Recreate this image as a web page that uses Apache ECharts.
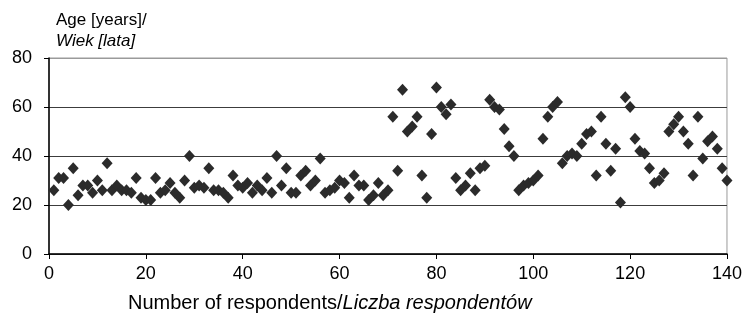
<!DOCTYPE html>
<html>
<head>
<meta charset="utf-8">
<script src="https://cdn.jsdelivr.net/npm/echarts@6/dist/echarts.min.js"></script>
<style>
  html, body { margin: 0; padding: 0; background: #fff; }
  #chart { width: 745px; height: 316px; }
</style>
</head>
<body>
<div id="chart"></div>
<script>
// 每位受访者的年龄（按受访者编号 1..140 顺序）
const ages = [
  26, 31, 31, 20, 35, 24, 28, 28, 25, 30,
  26, 37, 26, 28, 26, 26, 25, 31, 23, 22,
  22, 31, 25, 26, 29, 25, 23, 30, 40, 27,
  28, 27, 35, 26, 26, 25, 23, 32, 28, 27,
  29, 25, 28, 26, 31, 25, 40, 28, 35, 25,
  25, 32, 34, 28, 30, 39, 25, 26, 27, 30,
  29, 23, 32, 28, 28, 22, 24, 29, 24, 26,
  56, 34, 67, 50, 52, 56, 32, 23, 49, 68,
  60, 57, 61, 31, 26, 28, 33, 26, 35, 36,
  63, 60, 59, 51, 44, 40, 26, 28, 29, 30,
  32, 47, 56, 60, 62, 37, 40, 41, 40, 45,
  49, 50, 32, 56, 45, 34, 43, 21, 64, 60,
  47, 42, 41, 35, 29, 30, 33, 50, 53, 56,
  50, 45, 32, 56, 39, 46, 48, 43, 35, 30
]
// 坐标轴刻度
const xTicks = [0, 20, 40, 60, 80, 100, 120, 140]
const yTicks = [0, 20, 40, 60, 80]

const font = "'Liberation Sans', Arial, sans-serif"
const pointColor = '#2b2b2b'
const gridColor = '#3c3c3c'

let points = ages.map((a, i) => [i + 1, a])

let myChart = echarts.init(document.getElementById('chart'))
let option = {
  animation: false,
  textStyle: { fontFamily: font, color: '#000' },
  title: [
    {
      text: '{a|Age [years]/}\n{b|Wiek [lata]}',
      left: 56,
      top: 10,
      padding: 0,
      textStyle: {
        fontWeight: 'normal',
        rich: {
          a: { fontSize: 17, lineHeight: 21, color: '#000', fontFamily: font, fontWeight: 'normal' },
          b: { fontSize: 17, lineHeight: 21, color: '#000', fontFamily: font, fontWeight: 'normal', fontStyle: 'italic' }
        }
      }
    },
    {
      text: '{a|Number of respondents/}{b|Liczba respondentów}',
      left: 128,
      top: 293,
      padding: 0,
      textStyle: {
        fontWeight: 'normal',
        rich: {
          a: { fontSize: 20, color: '#000', fontFamily: font, fontWeight: 'normal' },
          b: { fontSize: 20, color: '#000', fontFamily: font, fontWeight: 'normal', fontStyle: 'italic' }
        }
      }
    }
  ],
  grid: {
    left: 49,
    right: 18,
    top: 58,
    bottom: 62,
    show: true,
    borderColor: '#9a9a9a',
    borderWidth: 1,
    containLabel: false
  },
  xAxis: {
    type: 'value',
    min: xTicks[0],
    max: xTicks[xTicks.length - 1],
    interval: 20,
    axisLine: { show: true, lineStyle: { color: '#000', width: 1.5 } },
    axisTick: { show: true, inside: false, length: 5, lineStyle: { color: '#000' } },
    axisLabel: { fontSize: 18, color: '#000', margin: 11, fontFamily: font },
    splitLine: { show: false }
  },
  yAxis: {
    type: 'value',
    min: yTicks[0],
    max: yTicks[yTicks.length - 1],
    interval: 20,
    axisLine: { show: true, lineStyle: { color: '#000', width: 1.5 } },
    axisTick: { show: true, inside: false, length: 5, lineStyle: { color: '#000' } },
    axisLabel: { fontSize: 18, color: '#000', margin: 17, fontFamily: font },
    splitLine: {
      show: true,
      lineStyle: { color: [gridColor, gridColor, gridColor, gridColor, '#9a9a9a'], width: 1 }
    }
  },
  series: [
    {
      type: 'scatter',
      symbol: 'diamond',
      symbolSize: [11, 12],
      itemStyle: { color: pointColor, opacity: 1 },
      data: points
    }
  ]
}

option && myChart.setOption(option)
</script>
</body>
</html>
